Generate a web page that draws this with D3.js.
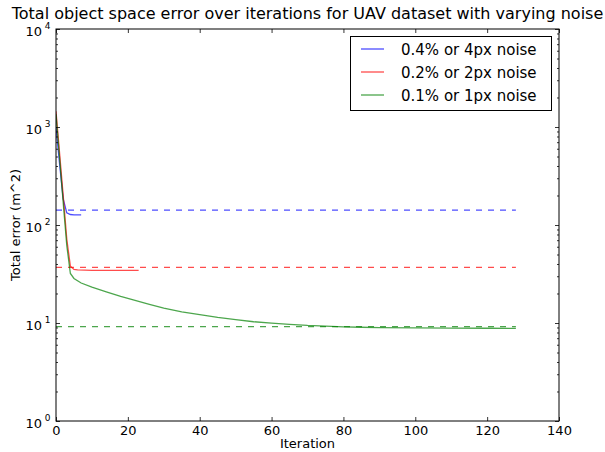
<!DOCTYPE html>
<html>
<head>
<meta charset="utf-8">
<script src="https://cdn.jsdelivr.net/npm/d3@7"></script>
<style>
	body { margin: 0; background: #fff; }
	svg { font-family: "DejaVu Sans", sans-serif; }
</style>
</head>
<body>
<svg width="605" height="452"></svg>
<script>
const title = "Total object space error over iterations for UAV dataset with varying noise";
const seriesNames = ["0.4% or 4px noise", "0.2% or 2px noise", "0.1% or 1px noise"];
const seriesColors = ["#0000ff", "#ff0000", "#008000"];

// solid lines: iteration, total error
const blueIter = [0, 1, 2, 3, 4, 5, 6, 7];
const blueErr = [1000, 420, 185, 133, 128, 127, 127, 127];
const redIter = [0, 1, 2, 3, 4, 5, 6, 8, 10, 14, 18, 23];
const redErr = [1450, 540, 200, 72, 38, 35.2, 34.8, 34.6, 34.5, 34.5, 34.5, 34.5];
const greenIter = [0, 1, 2, 3, 4, 5, 7, 10, 14, 18, 22, 26, 30, 35, 40, 45, 50, 55, 60, 65, 70, 75, 80, 85, 90, 100, 110, 120, 128];
const greenErr = [1350, 480, 170, 62, 32, 28.5, 25.6, 23.2, 20.8, 18.7, 17, 15.5, 14.2, 13, 12.2, 11.4, 10.8, 10.3, 9.95, 9.7, 9.45, 9.3, 9.15, 9.05, 8.98, 8.92, 8.87, 8.84, 8.83];

// dashed reference levels
const refLevels = [142, 37, 9.2];
const refRange = [0, 128];

const xTicks = [0, 20, 40, 60, 80, 100, 120, 140];
const yTicks = [1, 10, 100, 1000, 10000];

const margin = { top: 29, right: 46, bottom: 31, left: 56 };
const width = 605;
const height = 452;

const svg = d3.select("svg");

const x = d3.scaleLinear()
	.domain([0, 140])
	.range([margin.left, width - margin.right]);

const y = d3.scaleLog()
	.domain([1, 10000])
	.range([height - margin.bottom, margin.top]);

const minorY = [];
for (let e = 0; e < 4; e++) {
	for (let k = 2; k <= 9; k++) minorY.push(k * Math.pow(10, e));
}

const plot = svg.append("g");

plot.append("clipPath").attr("id", "clip")
	.append("rect")
	.attr("x", x(0)).attr("y", y(10000))
	.attr("width", x(140) - x(0)).attr("height", y(1) - y(10000));

const lines = plot.append("g").attr("clip-path", "url(#clip)");

const line = d3.line()
	.x(d => x(d[0]))
	.y(d => y(d[1]));

const solid = [
	d3.zip(blueIter, blueErr),
	d3.zip(redIter, redErr),
	d3.zip(greenIter, greenErr)
];

refLevels.forEach((v, i) => {
	lines.append("path")
		.attr("d", line(refRange.map(t => [t, v])))
		.attr("fill", "none")
		.attr("stroke", seriesColors[i])
		.attr("stroke-opacity", 0.7)
		.attr("stroke-width", 1.2)
		.attr("stroke-dasharray", "6,6");
});

solid.forEach((pts, i) => {
	lines.append("path")
		.attr("d", line(pts))
		.attr("fill", "none")
		.attr("stroke", seriesColors[i])
		.attr("stroke-opacity", 0.7)
		.attr("stroke-width", 1.3);
});

// axes: ticks point inward, mirrored on top and right
const tickSize = 4;
const minorSize = 2;

const xAxisBottom = svg.append("g")
	.attr("transform", `translate(0,${y(1)})`)
	.call(d3.axisBottom(x).tickValues(xTicks).tickSizeInner(-tickSize).tickSizeOuter(0).tickPadding(5).tickFormat(d3.format("d")));

svg.append("g")
	.attr("transform", `translate(0,${y(10000)})`)
	.call(d3.axisTop(x).tickValues(xTicks).tickSizeInner(-tickSize).tickSizeOuter(0).tickFormat(""));

svg.append("g")
	.attr("transform", `translate(${x(0)},0)`)
	.call(d3.axisLeft(y).tickValues(yTicks).tickSizeInner(-tickSize).tickSizeOuter(0).tickFormat(""));

svg.append("g")
	.attr("transform", `translate(${x(0)},0)`)
	.call(d3.axisLeft(y).tickValues(minorY).tickSizeInner(-minorSize).tickSizeOuter(0).tickFormat(""));

svg.append("g")
	.attr("transform", `translate(${x(140)},0)`)
	.call(d3.axisRight(y).tickValues(yTicks).tickSizeInner(-tickSize).tickSizeOuter(0).tickFormat(""));

svg.append("g")
	.attr("transform", `translate(${x(140)},0)`)
	.call(d3.axisRight(y).tickValues(minorY).tickSizeInner(-minorSize).tickSizeOuter(0).tickFormat(""));

svg.selectAll(".domain").remove();
svg.selectAll(".tick line").attr("stroke", "#000").attr("stroke-width", 0.8);

xAxisBottom.selectAll("text")
	.attr("fill", "#000")
	.attr("font-size", 13)
	.attr("font-family", "DejaVu Sans");

// log labels as 10 with superscript
const yLabels = svg.append("g")
	.attr("font-size", 13)
	.attr("text-anchor", "end");

yTicks.forEach(v => {
	yLabels.append("text")
		.attr("x", x(0) - 14)
		.attr("y", y(v) + 6.5)
		.text("10");
	yLabels.append("text")
		.attr("x", x(0) - 5.5)
		.attr("y", y(v) - 0.5)
		.attr("font-size", 9)
		.text(Math.round(Math.log10(v)));
});

svg.append("rect")
	.attr("x", x(0)).attr("y", y(10000))
	.attr("width", x(140) - x(0)).attr("height", y(1) - y(10000))
	.attr("fill", "none")
	.attr("stroke", "#000")
	.attr("stroke-width", 1);

svg.append("text")
	.attr("x", (x(0) + x(140)) / 2)
	.attr("y", 18.5)
	.attr("text-anchor", "middle")
	.attr("font-size", 16)
	.text(title);

svg.append("text")
	.attr("x", (x(0) + x(140)) / 2)
	.attr("y", 448)
	.attr("text-anchor", "middle")
	.attr("font-size", 13)
	.text("Iteration");

svg.append("text")
	.attr("transform", `translate(20,${(y(1) + y(10000)) / 2}) rotate(-90)`)
	.attr("text-anchor", "middle")
	.attr("font-size", 13)
	.text("Total error (m^2)");

// legend
const legend = svg.append("g");

legend.append("rect")
	.attr("x", 350.5).attr("y", 36.5)
	.attr("width", 201).attr("height", 74)
	.attr("fill", "#fff")
	.attr("stroke", "#000")
	.attr("stroke-width", 1);

seriesNames.forEach((name, i) => {
	const ly = 49 + i * 23;
	legend.append("line")
		.attr("x1", 361).attr("x2", 384)
		.attr("y1", ly).attr("y2", ly)
		.attr("stroke", seriesColors[i])
		.attr("stroke-opacity", 0.7)
		.attr("stroke-width", 1.3);
	legend.append("text")
		.attr("x", 401)
		.attr("y", ly + 5.5)
		.attr("font-size", 15)
		.text(name);
});
</script>
</body>
</html>
